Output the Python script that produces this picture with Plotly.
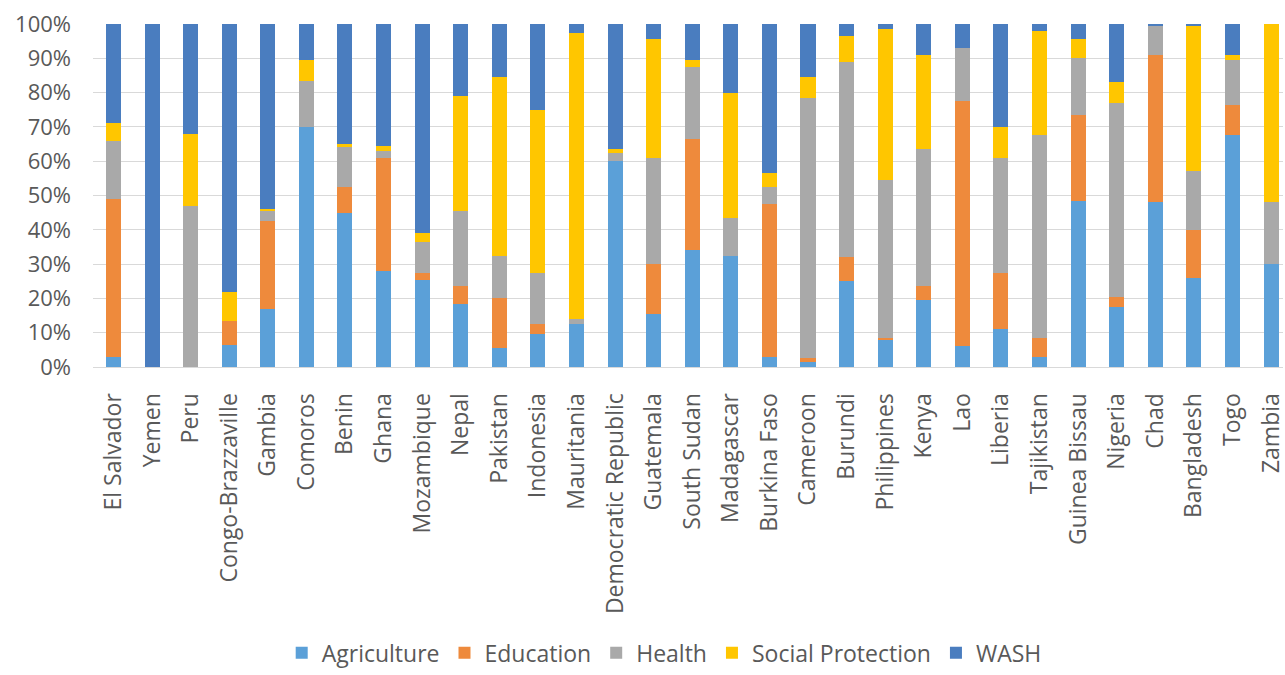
import plotly.graph_objects as go

countries = ["El Salvador", "Yemen", "Peru", "Congo-Brazzaville", "Gambia", "Comoros", "Benin",
             "Ghana", "Mozambique", "Nepal", "Pakistan", "Indonesia", "Mauritania",
             "Democratic Republic", "Guatemala", "South Sudan", "Madagascar", "Burkina Faso",
             "Cameroon", "Burundi", "Philippines", "Kenya", "Lao", "Liberia", "Tajikistan",
             "Guinea Bissau", "Nigeria", "Chad", "Bangladesh", "Togo", "Zambia"]

agriculture = [3, 0, 0, 6.5, 17, 70, 45, 28, 25.5, 18.5, 5.5, 9.5, 12.5, 60, 15.5, 34, 32.5, 3,
               1.5, 25, 8, 19.5, 6, 11, 3, 48.5, 17.5, 48, 26, 67.5, 30]
education = [46, 0, 0, 7, 25.5, 0, 7.5, 33, 2, 5, 14.5, 3, 0, 0, 14.5, 32.5, 0, 44.5,
             1, 7, 0.5, 4, 71.5, 16.5, 5.5, 25, 3, 43, 14, 9, 0]
health = [17, 0, 47, 0, 3, 13.5, 11.5, 2, 9, 22, 12.5, 15, 1.5, 2.5, 31, 21, 11, 5,
          76, 57, 46, 40, 15.5, 33.5, 59, 16.5, 56.5, 8.5, 17, 13, 18]
social_protection = [5, 0, 21, 8.5, 0.5, 6, 1, 1.5, 2.5, 33.5, 52, 47.5, 83.5, 1, 34.5, 2, 36.5, 4,
                     6, 7.5, 44, 27.5, 0, 9, 30.5, 5.5, 6, 0, 42.5, 1.5, 52]
wash = [29, 100, 32, 78, 54, 10.5, 35, 35.5, 61, 21, 15.5, 25, 2.5, 36.5, 4.5, 10.5, 20, 43.5,
        15.5, 3.5, 1.5, 9, 7, 30, 2, 4.5, 17, 0.5, 0.5, 9, 0]

series = [("Agriculture", agriculture, "#5BA0D8"),
          ("Education", education, "#EE8A3C"),
          ("Health", health, "#A9A9A9"),
          ("Social Protection", social_protection, "#FFC600"),
          ("WASH", wash, "#4A7DBF")]

fig = go.Figure()
for name, vals, color in series:
    fig.add_trace(go.Bar(x=countries, y=vals, name=name, marker_color=color,
                         marker_line_width=0))

font = "Open Sans, sans-serif"
fig.update_layout(
    barmode="stack",
    barnorm="percent",
    bargap=0.61,
    width=1285, height=675,
    margin=dict(l=93, r=0, t=24, b=303),
    plot_bgcolor="white", paper_bgcolor="white",
    font=dict(family=font, size=23, color="#595959"),
    legend=dict(orientation="h", x=0.48, xanchor="center", y=-0.833, yanchor="middle",
                font=dict(size=23, color="#595959"), traceorder="normal",
                itemwidth=30, entrywidth=0),
    xaxis=dict(tickangle=-90, range=[-0.53, 30.31], showgrid=False,
               showline=True, linecolor="#d9d9d9", ticks="", ticklabelstandoff=16,
               tickfont=dict(size=23, color="#595959")),
    yaxis=dict(range=[0, 100], dtick=10, ticksuffix="%", showgrid=True,
               gridcolor="#d9d9d9", gridwidth=1, zeroline=False, ticks="",
               ticklabelstandoff=21, tickfont=dict(size=22, color="#595959")),
)

fig.write_html("out.html")
